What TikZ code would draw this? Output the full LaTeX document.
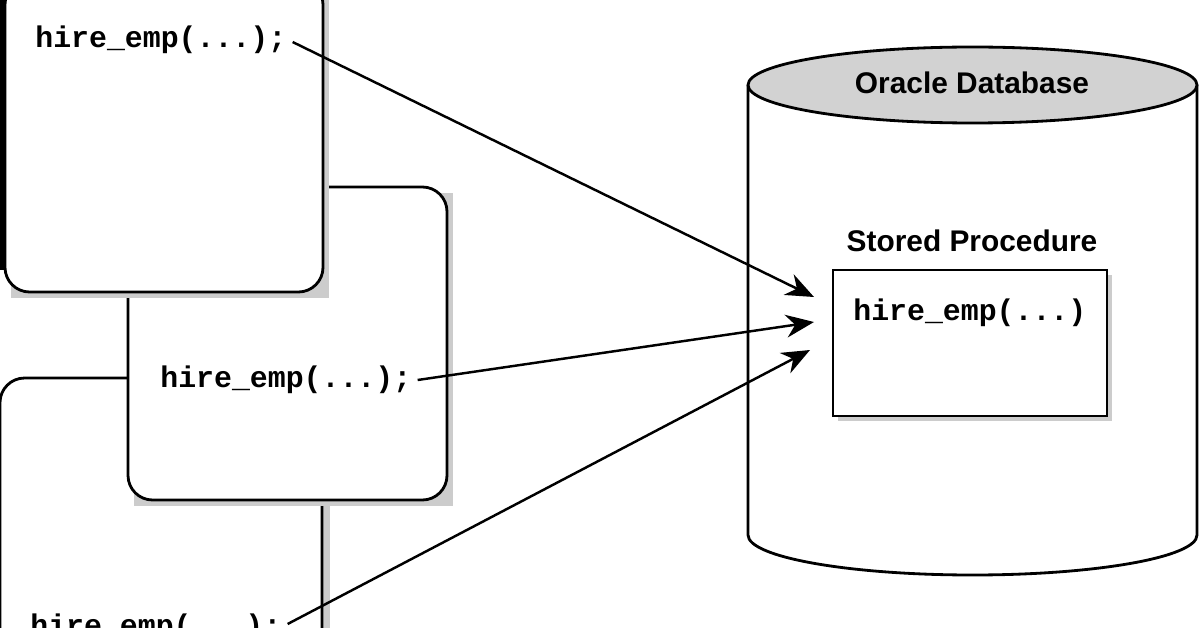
\documentclass[tikz,border=0pt]{standalone}
\usepackage{fontspec}
\setmainfont{Liberation Sans}
\newfontfamily\codefont{Liberation Mono}
\usetikzlibrary{arrows.meta}
\begin{document}
\begin{tikzpicture}[x=0.02cm, y=-0.02cm,
    client/.style={draw, line width=1.6pt, rounded corners=14pt, fill=white},
    code/.style={font=\codefont\bfseries\fontsize{17}{20}\selectfont, anchor=west, inner sep=0pt},
    label/.style={font=\bfseries\fontsize{17}{20}\selectfont, inner sep=0pt},
    call/.style={line width=1.4pt, -{Stealth[length=16pt, width=13pt]}}]
  \useasboundingbox (0,0) rectangle (1199,628);
  \clip (0,0) rectangle (1199,628);

  % client programs
  \fill[gray!40] (6,384) rectangle (330,660);
  \draw[client] (0,378) rectangle (322,680);
  \fill[gray!40] (134,193) rectangle (453,506);
  \draw[client] (128,187) rectangle (447,500);
  \fill[gray!40] (11,-14) rectangle (329,298);
  \draw[client] (5,-20) rectangle (323,292);
  \draw[line width=4pt] (2,-20) -- (2,270);

  \node[code] (call1) at (35,40) {hire\_emp(...);};
  \node[code] (call2) at (160,380) {hire\_emp(...);};
  \node[code] (call3) at (30,628) {hire\_emp(...);};

  % database
  \fill[gray!40] (1199,80) rectangle (1205,540);
  \draw[line width=1.6pt, fill=white] (748,85) -- (748,535) arc (180:0:224.5 and 40) -- (1197,85);
  \draw[line width=1.6pt, fill=gray!35] (972.5,85) ellipse (224.5 and 38);
  \node[label] (db) at (972,83) {Oracle Database};

  \node[label] (sp) at (972,241) {Stored Procedure};
  \fill[gray!40] (838,275) rectangle (1112,421);
  \draw[line width=1.6pt, fill=white] (833,270) rectangle (1107,416);
  \node[code] (proc) at (853,313) {hire\_emp(...)};

  \coordinate (in1) at (814,297);
  \coordinate (in2) at (814,322);
  \coordinate (in3) at (810,350);
  \draw[call] (call1.east) ++(6,2) -- (in1);
  \draw[call] (call2.east) ++(6,0) -- (in2);
  \draw[call] (call3.east) ++(6,-4) -- (in3);
\end{tikzpicture}
\end{document}
